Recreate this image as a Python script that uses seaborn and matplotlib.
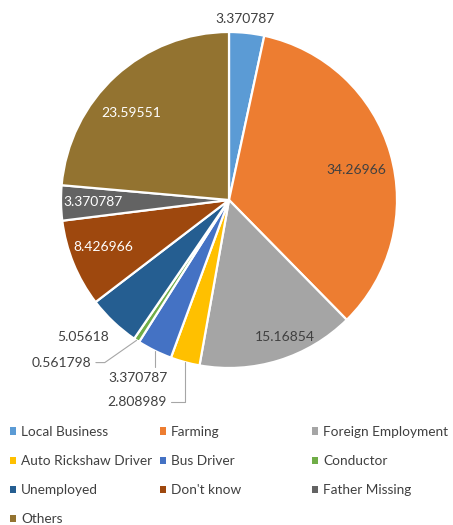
import numpy as np
import matplotlib
matplotlib.use('Agg')
import matplotlib.pyplot as plt
import matplotlib.patches as mpatches
import seaborn as sns

categories = ['Local Business', 'Farming', 'Foreign Employment', 'Auto Rickshaw Driver',
              'Bus Driver', 'Conductor', 'Unemployed', "Don't know", 'Father Missing', 'Others']
values = [3.370787, 34.26966, 15.16854, 2.808989, 3.370787,
          0.561798, 5.05618, 8.426966, 3.370787, 23.59551]
value_labels = ['3.370787', '34.26966', '15.16854', '2.808989', '3.370787',
                '0.561798', '5.05618', '8.426966', '3.370787', '23.59551']
colors = ['#5B9BD5', '#ED7D31', '#A5A5A5', '#FFC000', '#4472C4',
          '#70AD47', '#255E91', '#9E480E', '#636363', '#937330']

# label placement: (radius, angle offset from wedge middle, text colour, leader style)
label_place = [
    (1.08, 1.0, '#404040', None),
    (0.78, -2.9, '#404040', None),
    (0.88, 5.0, '#404040', None),
    (1.32, -9.4, '#404040', 'angle,angleA=0,angleB=90,rad=0'),
    (1.19, -0.9, '#404040', 'angle,angleA=0,angleB=90,rad=0'),
    (1.39, -12.5, '#404040', 'angle,angleA=0,angleB=35,rad=0'),
    (1.19, -3.3, '#404040', None),
    (0.80, -1.7, 'white', None),
    (0.81, 0.0, 'white', None),
    (0.78, 5.9, 'white', None),
]

sns.set_theme(style='white')
plt.rcParams['font.family'] = ['Lato', 'DejaVu Sans']

fig = plt.figure(figsize=(4.53, 5.25), dpi=100)
ax = fig.add_axes([0, 115 / 525, 1, 410 / 525])

wedges, _ = ax.pie(values, colors=colors, startangle=90, counterclock=False, radius=1,
                   wedgeprops=dict(edgecolor='white', linewidth=1.6))
ax.set_xlim(-229 / 168, 224 / 168)
ax.set_ylim(-210 / 168, 200 / 168)
ax.set_aspect('equal')
ax.axis('off')

for w, txt, (r, off, col, leader) in zip(wedges, value_labels, label_place):
    mid = np.deg2rad((w.theta1 + w.theta2) / 2)
    ang = mid + np.deg2rad(off)
    tx, ty = r * np.cos(ang), r * np.sin(ang)
    if leader is None:
        ax.text(tx, ty, txt, ha='center', va='center', color=col, fontsize=10)
    else:
        ex, ey = np.cos(mid), np.sin(mid)
        ax.annotate(txt, xy=(ex, ey), xytext=(tx, ty), ha='center', va='center',
                    color=col, fontsize=10,
                    arrowprops=dict(arrowstyle='-', color='#A6A6A6', lw=0.8,
                                    connectionstyle=leader, shrinkA=1, shrinkB=0))

# legend laid out row by row in three fixed columns
col_x = [10, 160, 312]
for c in range(3):
    idx = list(range(c, len(categories), 3))
    handles = [mpatches.Patch(facecolor=colors[i], edgecolor='none', label=categories[i]) for i in idx]
    fig.legend(handles=handles, loc='upper left', bbox_to_anchor=(col_x[c] / 453, 1 - 426 / 525),
               frameon=False, fontsize=9.8, labelcolor='#404040', borderpad=0, borderaxespad=0,
               handlelength=0.45, handleheight=0.45, handletextpad=0.35, labelspacing=1.26)

fig.savefig('out.png', dpi=100)
